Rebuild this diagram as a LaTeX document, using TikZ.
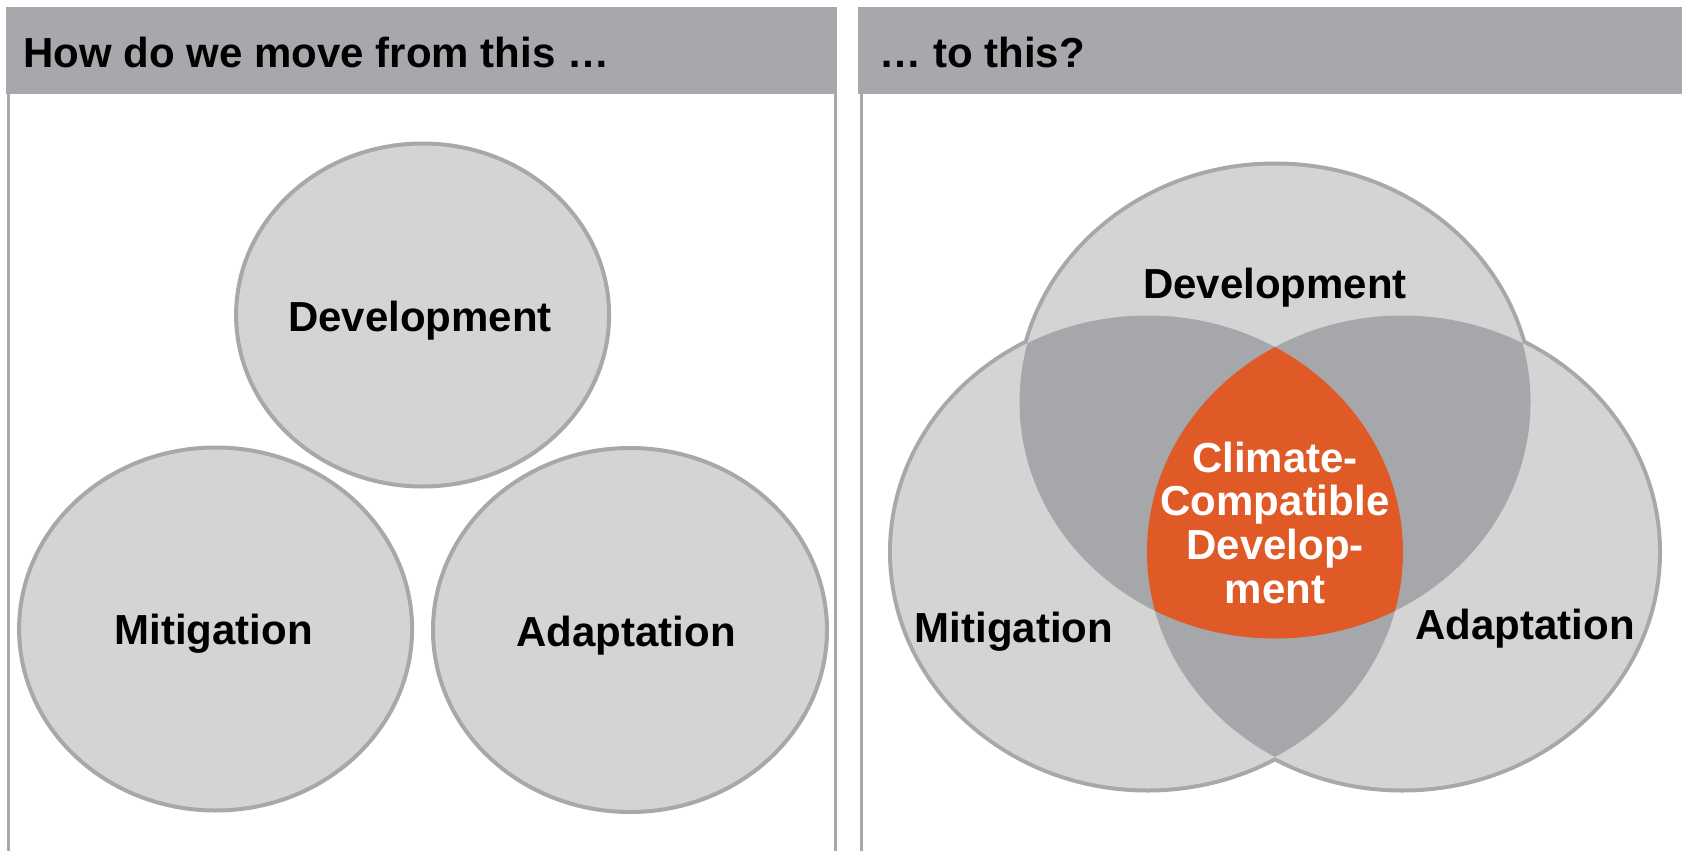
\documentclass[tikz,border=0pt]{standalone}
\usepackage{fontspec}
\setmainfont{Liberation Sans}
\definecolor{hdrgray}{HTML}{A7A8AB}
\definecolor{linegray}{HTML}{A8A8AA}
\definecolor{lightgray}{HTML}{D4D4D4}
\definecolor{darkgray}{HTML}{A6A7AA}
\definecolor{ccdorange}{HTML}{E05A28}
\tikzset{
  header/.style={fill=hdrgray, draw=none},
  border/.style={draw=linegray, line width=1.5pt},
  blob/.style={fill=lightgray, draw=linegray, line width=2pt},
  hdrtext/.style={font=\fontsize{21}{25}\selectfont\bfseries, inner sep=0pt, anchor=base west, text=black},
  lbl/.style={font=\fontsize{21}{25}\selectfont\bfseries, inner sep=0pt, anchor=base, text=black},
  ccdtext/.style={font=\fontsize{21}{21.8}\selectfont\bfseries, inner sep=0pt, text=white, align=center}
}
\begin{document}
\begin{tikzpicture}[x=0.5pt,y=-0.5pt]
\useasboundingbox (0,0) rectangle (1682,851);
\fill[white] (0,0) rectangle (1682,851);
% headers
\fill[header] (6,7) rectangle (837,94);
\fill[header] (858,7) rectangle (1682,94);
% panel borders
\draw[border] (8.5,94) -- (8.5,851);
\draw[border] (835,94) -- (835,851);
\draw[border] (861,94) -- (861,851);
\node[hdrtext] (h1) at (23,67) {How do we move from this …};
\node[hdrtext] (h2) at (879,67) {… to this?};
% left panel circles
\draw[blob] (422.6,315) ellipse [x radius=186.5, y radius=171.5];
\draw[blob] (215.6,629) ellipse [x radius=196.5, y radius=181.5];
\draw[blob] (630,630) ellipse [x radius=197, y radius=182];
\node[lbl] (ldev) at (420,331) {Development};
\node[lbl] (lmit) at (213.5,644.5) {Mitigation};
\node[lbl] (lada) at (626,646) {Adaptation};
% right panel Venn
\def\devE{(1275,402) ellipse [x radius=255.5, y radius=236.5]}
\def\mitE{(1147.5,552) ellipse [x radius=255.5, y radius=236.5]}
\def\adaE{(1402.5,552) ellipse [x radius=255.5, y radius=236.5]}
\draw[linegray, line width=4pt] \devE;
\draw[linegray, line width=4pt] \mitE;
\draw[linegray, line width=4pt] \adaE;
\fill[lightgray] \devE;
\fill[lightgray] \mitE;
\fill[lightgray] \adaE;
\begin{scope}
  \clip \devE;
  \fill[darkgray] \mitE;
  \fill[darkgray] \adaE;
\end{scope}
\begin{scope}
  \clip \mitE;
  \fill[darkgray] \adaE;
\end{scope}
\begin{scope}
  \clip \devE;
  \clip \mitE;
  \fill[ccdorange] \adaE;
\end{scope}
\node[lbl] (rdev) at (1275,298.5) {Development};
\node[lbl] (rmit) at (1014,642) {Mitigation};
\node[lbl] (rada) at (1525,639) {Adaptation};
\node[ccdtext, anchor=base] (ccd) at (1275,603) {Climate-\\Compatible\\Develop-\\ment};
\end{tikzpicture}
\end{document}
